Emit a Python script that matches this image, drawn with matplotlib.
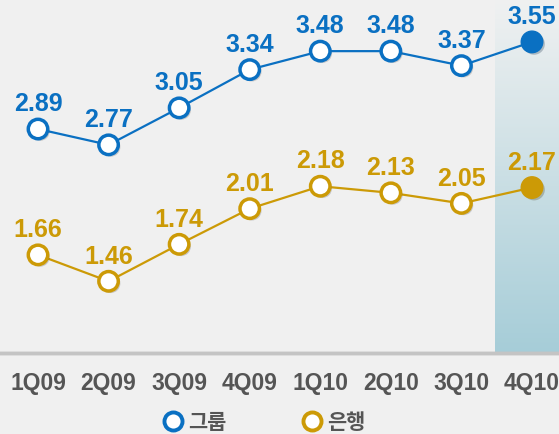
import matplotlib.pyplot as plt
import matplotlib.patheffects as pe
import numpy as np
from matplotlib.lines import Line2D
from matplotlib.colors import LinearSegmentedColormap

quarters = ["1Q09", "2Q09", "3Q09", "4Q09", "1Q10", "2Q10", "3Q10", "4Q10"]
group = [2.89, 2.77, 3.05, 3.34, 3.48, 3.48, 3.37, 3.55]
bank = [1.66, 1.46, 1.74, 2.01, 2.18, 2.13, 2.05, 2.17]

blue = "#0a70c2"
gold = "#cc9a06"
bg = "#f0f0f0"

plt.rcParams['font.family'] = ['Liberation Sans', 'Noto Sans CJK KR', 'DejaVu Sans']

fig = plt.figure(figsize=(5.59, 4.35), dpi=100, facecolor=bg)
ax = fig.add_axes([0, 1 - 354 / 435, 1, 354 / 435])
ax.set_facecolor(bg)
ax2 = ax.twinx()

x = np.arange(len(quarters))
xl = (-38 / 70.57, (559 - 38) / 70.57)
ax.set_xlim(*xl)
ax.set_ylim((511.5 - 354) / 132, 511.5 / 132)
ax2.set_ylim((475 - 354) / 132, 475 / 132)

# shaded column behind last quarter
grad = LinearSegmentedColormap.from_list("g", ["#f0f1f1", "#a6cdd8"])
ax.imshow(np.linspace(0, 1, 256).reshape(-1, 1), cmap=grad, aspect="auto",
          extent=(6.48, xl[1], ax.get_ylim()[0], ax.get_ylim()[1]),
          origin="upper", zorder=0)
ax.set_xlim(*xl)

shadow = [pe.SimplePatchShadow(offset=(1.5, -1.5), alpha=0.25), pe.Normal()]

for a, vals, c in [(ax, group, blue), (ax2, bank, gold)]:
    a.plot(x, vals, color=c, lw=1.6, zorder=3)
    a.plot(x[:-1], vals[:-1], 'o', ms=14, mfc='white', mec=c, mew=2.5,
           zorder=4, path_effects=shadow)
    a.plot(x[-1:], vals[-1:], 'o', ms=15.5, mfc=c, mec=c, mew=1,
           zorder=4, path_effects=shadow)
    for xi, v in zip(x, vals):
        a.annotate(f"{v:.2f}", (xi, v), xytext=(0, 13.5), textcoords="offset points",
                   ha="center", va="baseline", color=c, fontsize=18,
                   fontweight="bold", zorder=5)

ax2.set_yticks([])
ax.set_yticks([])
ax.set_xticks(x)
ax.set_xticklabels(quarters, fontsize=16.5, fontweight="bold", color="#555555")
ax.tick_params(axis="x", length=0, pad=13)
for a in (ax, ax2):
    for s in ("top", "left", "right"):
        a.spines[s].set_visible(False)
    a.spines["bottom"].set_color("#c4c4c4")
    a.spines["bottom"].set_linewidth(2.5)

handles = [
    Line2D([], [], marker='o', ls='', ms=13, mfc='white', mec=blue, mew=2.8),
    Line2D([], [], marker='o', ls='', ms=13, mfc='white', mec=gold, mew=2.8),
]
fig.legend(handles, ["그룹", "은행"], loc="center", bbox_to_anchor=(264 / 559, 1 - 423 / 435),
           ncol=2, frameon=False, handletextpad=0.25, columnspacing=3.6,
           handlelength=1.0, prop={'family': ['Noto Sans CJK KR'], 'weight': 'bold', 'size': 15},
           labelcolor="#555555")

fig.savefig("out.png", dpi=100, facecolor=bg)
